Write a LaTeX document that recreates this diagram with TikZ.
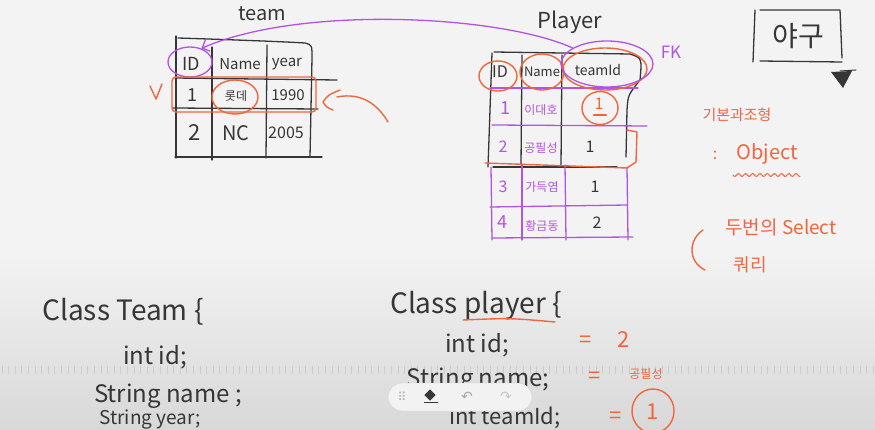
\documentclass[tikz,border=0pt]{standalone}
\usepackage{fontspec}
\setmainfont{Noto Sans CJK KR}
\newfontfamily\symbolfont{DejaVu Sans}
\usetikzlibrary{shapes.geometric,arrows.meta}
\definecolor{ink}{HTML}{363636}
\definecolor{redpen}{HTML}{F0663F}
\definecolor{violetpen}{HTML}{B254E3}
\definecolor{paper}{HTML}{F3F3F3}
\definecolor{dimpaper}{HTML}{D8D8D8}
\newcommand{\hsz}[1]{\fontsize{#1pt}{#1pt}\selectfont}
\tikzset{
  pen/.style={draw=ink, line width=1.3pt, line cap=round, line join=round},
  redstroke/.style={draw=redpen, line width=1.4pt, line cap=round, line join=round},
  violetstroke/.style={draw=violetpen, line width=1.3pt, line cap=round, line join=round},
  hand/.style={inner sep=0pt, text=ink},
  redhand/.style={inner sep=0pt, text=redpen},
  violethand/.style={inner sep=0pt, text=violetpen},
  ring/.style={ellipse, inner sep=0pt},
}
\begin{document}
\begin{tikzpicture}[x=1pt,y=-1pt]
\useasboundingbox (0,0) rectangle (875,430);
\clip (0,0) rectangle (875,430);
\fill[paper] (0,0) rectangle (875,430);
\shade[top color=paper, bottom color=dimpaper] (0,250) rectangle (875,430);
\foreach \x in {2,8.6,...,875}
  \draw[gray!40, line width=0.7pt] (\x,366) -- (\x,374);

% team table
\node[hand, font=\hsz{20}] (teamtitle) at (262,14) {team};
\draw[pen] (176,36) -- (176,158);
\draw[pen] (178,38) .. controls (240,40) and (290,42) .. (305,43) .. controls (312,45) .. (312,58) -- (310,157);
\draw[pen] (212,47) -- (212,160);
\draw[pen] (267,45) -- (266,158);
\draw[pen] (175,78) -- (337,80);
\draw[pen] (173,108) -- (318,109);
\draw[pen] (175,157) -- (322,157);
\node[hand, font=\hsz{18}] (tid) at (191,64) {ID};
\node[hand, font=\hsz{15}] (tname) at (240,64) {Name};
\node[hand, font=\hsz{15}] (tyear) at (287,64) {year};
\node[hand, font=\hsz{18}] (t1) at (192,95) {1};
\node[hand, font=\hsz{12}] (lotte) at (236,96) {롯데};
\node[hand, font=\hsz{15}] (t1990) at (288,95) {1990};
\node[hand, font=\hsz{22}] (t2) at (195,133) {2};
\node[hand, font=\hsz{20}] (tnc) at (236,133) {NC};
\node[hand, font=\hsz{16}] (t2005) at (286,133) {2005};
\node[ring, violetstroke, minimum width=44pt, minimum height=30pt] (tidring) at (190,62) {};
\node[ring, redstroke, minimum width=46pt, minimum height=34pt] (lottering) at (235,97) {};
\draw[redstroke, rounded corners=4pt] (172,77) rectangle (316,112);
\draw[redstroke] (150,86) -- (156,99) -- (162,84);
\draw[redstroke] (340,90) .. controls (328,95) .. (323,102) .. controls (326,107) .. (333,110);
\draw[redstroke] (337,97) .. controls (362,92) and (378,105) .. (388,122);

% player table
\node[hand, font=\hsz{22}] (ptitle) at (570,22) {Player};
\draw[pen] (492,53) -- (488,167);
\draw[pen] (494,52) -- (630,54) .. controls (642,58) .. (640,80) .. controls (628,95) .. (627,110) -- (626,157);
\draw[pen] (522,55) -- (521,165);
\draw[pen] (562,55) -- (561,165);
\draw[pen] (493,167) -- (617,167);
\draw[violetstroke] (490,88) -- (638,88);
\draw[violetstroke] (492,125) -- (647,126);
\draw[violetstroke] (490,207) -- (627,205);
\draw[violetstroke] (492,238) -- (633,237);
\draw[violetstroke] (491,167) -- (492,240);
\draw[violetstroke] (522,165) -- (522,240);
\draw[violetstroke] (565,165) -- (566,240);
\draw[violetstroke] (627,167) -- (628,240);
\draw[redstroke] (485,163) -- (627,168);
\draw[redstroke] (627,130) -- (637,132) -- (636,162) -- (627,168);
\node[hand, font=\hsz{16}] (pid) at (500,72) {ID};
\node[hand, font=\hsz{13}] (pname) at (542,72) {Name};
\node[hand, font=\hsz{14}] (pteam) at (598,70) {teamId};
\node[ring, redstroke, minimum width=38pt, minimum height=30pt] (pidring) at (498,76) {};
\node[ring, redstroke, minimum width=44pt, minimum height=36pt] (pnamering) at (542,72) {};
\node[ring, redstroke, minimum width=84pt, minimum height=42pt] (pteamring) at (605,69) {};
\node[ring, violetstroke, minimum width=92pt, minimum height=46pt] (fkring) at (607,64) {};
\node[violethand, font=\hsz{17}] (fk) at (671,52) {FK};
\node[violethand, font=\hsz{18}] (p1) at (505,108) {1};
\node[violethand, font=\hsz{12}] (p1name) at (541,110) {이대호};
\node[redhand, font=\hsz{16}] (p1team) at (599,104) {1};
\draw[redstroke, line width=2.4pt] (594,115) -- (606,115);
\node[ring, redstroke, minimum width=36pt, minimum height=33pt] (p1ring) at (600,108) {};
\node[violethand, font=\hsz{16}] (p2) at (503,147) {2};
\node[violethand, font=\hsz{12}] (p2name) at (541,148) {공필성};
\node[hand, font=\hsz{16}] (p2team) at (590,147) {1};
\node[violethand, font=\hsz{16}] (p3) at (503,187) {3};
\node[violethand, font=\hsz{12}] (p3name) at (542,187) {가득염};
\node[hand, font=\hsz{16}] (p3team) at (595,187) {1};
\node[violethand, font=\hsz{18}] (p4) at (502,222) {4};
\node[violethand, font=\hsz{12}] (p4name) at (542,226) {황금동};
\node[hand, font=\hsz{16}] (p4team) at (597,223) {2};
\draw[violetstroke, -{Straight Barb[length=6pt]}] (fkring.155) .. controls (500,15) and (300,5) .. (tidring.50);

% right notes
\draw[pen] (755,10) -- (753,62);
\draw[pen] (760,10) -- (840,10) -- (842,58);
\draw[pen] (760,61) -- (842,62);
\node[hand, font=\hsz{28}] (baseball) at (798,36) {야구};
\fill[ink] (831,72) -- (852,71) -- (843,88) -- cycle;
\draw[pen, line width=1pt] (840,71) -- (856,70);
\node[redhand, font=\hsz{15}] (kinds) at (737,115) {기본과조형};
\node[redhand, font=\hsz{16}] (colon) at (715,155) {:};
\node[redhand, font=\hsz{20}] (object) at (767,154) {Object};
\draw[redstroke, line width=1pt] plot[domain=733:800, samples=80] (\x,{175+1.4*sin((\x-733)*50)});
\draw[redstroke] (703,230) .. controls (688,240) and (688,262) .. (705,270);
\node[redhand, font=\hsz{19}] (twoq) at (781,227) {두번의 Select};
\node[redhand, font=\hsz{18}] (query) at (750,265) {쿼리};

% classes
\node[hand, font=\hsz{28}] (classteam) at (123,312) {Class Team \{};
\node[hand, font=\hsz{24}] (teamid) at (155,357) {int id;};
\node[hand, font=\hsz{24}] (teamname) at (168,396) {String name ;};
\node[hand, font=\hsz{19}] (teamyear) at (150,420) {String year;};
\node[hand, font=\hsz{28}] (classplayer) at (476,306) {Class player \{};
\draw[redstroke] (463,320) .. controls (510,318) .. (555,322);
\node[hand, font=\hsz{24}] (playerid) at (477,345) {int id;};
\node[redhand, font=\hsz{22}] (eqid) at (586,342) {=};
\node[redhand, font=\hsz{22}] (valid) at (624,340) {2};
\node[hand, font=\hsz{24}] (playername) at (478,380) {String name;};
\node[redhand, font=\hsz{22}] (eqname) at (595,378) {=};
\node[redhand, font=\hsz{12}] (valname) at (646,374) {공필성};
\node[hand, font=\hsz{22}] (playerteam) at (505,418) {int teamId;};
\node[redhand, font=\hsz{22}] (eqteam) at (616,418) {=};
\node[redhand, font=\hsz{22}] (valteam) at (653,412) {1};
\node[ring, redstroke, minimum width=42pt, minimum height=44pt] (valring) at (653,411) {};

% toolbar
\node[draw=gray!35, fill=gray!10, rounded corners=14pt, minimum width=144pt, minimum height=28pt, inner sep=0pt] (toolbar) at (460,397) {};
\node[text=gray!60, font=\symbolfont\hsz{12}] (grip) at (402,397) {⠿};
\node[fill=ink, minimum size=8pt, rotate=45, inner sep=0pt] (eraser) at (430,395) {};
\draw[ink, line width=1pt] (424,402) -- (438,402);
\node[text=gray!70, font=\symbolfont\hsz{14}] (undo) at (467,397) {↶};
\node[text=gray!45, font=\symbolfont\hsz{14}] (redo) at (506,397) {↷};
\end{tikzpicture}
\end{document}
